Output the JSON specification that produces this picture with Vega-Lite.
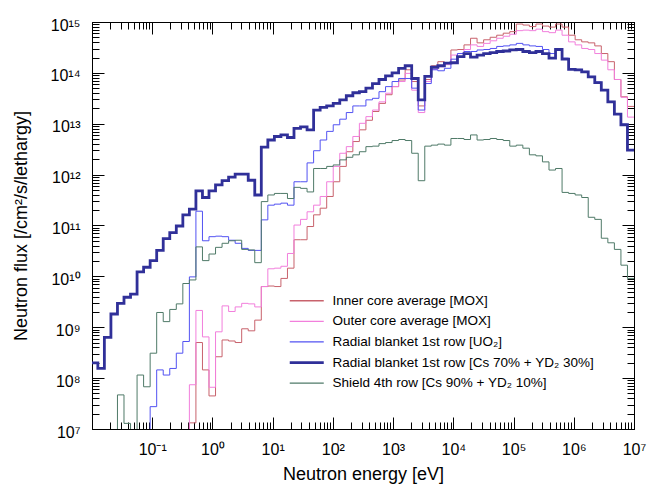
{
  "$schema": "https://vega.github.io/schema/vega-lite/v6.json",
  "width": 542,
  "height": 407,
  "autosize": "none",
  "padding": {"left": 92, "top": 22, "right": 14, "bottom": 60},
  "background": "white",
  "config": {
    "view": {"stroke": "black", "strokeWidth": 1},
    "font": "Liberation Sans",
    "axis": {"grid": false, "domainColor": "black", "tickColor": "black", "labelColor": "black", "titleColor": "black", "labelFont": "Liberation Sans", "titleFont": "Liberation Sans", "titleFontWeight": "normal", "labelOverlap": false, "labelFlush": false}
  },
  "data": {"values": [
    {"e":0.009736,"a":1e5,"b":1e5,"c":1e5,"d":2.00e8,"g":1e5},
    {"e":0.012502,"a":1e5,"b":1e5,"c":1e5,"d":1.55e8,"g":1e5},
    {"e":0.016052,"a":1e5,"b":1e5,"c":1e5,"d":6.31e8,"g":1e5},
    {"e":0.020612,"a":1e5,"b":1e5,"c":1e5,"d":1.82e9,"g":1e5},
    {"e":0.026466,"a":1e5,"b":1e5,"c":1e5,"d":2.95e9,"g":4.68e7},
    {"e":0.033983,"a":1e5,"b":1e5,"c":1e5,"d":3.89e9,"g":1.29e7},
    {"e":0.043634,"a":1e5,"b":1e5,"c":1e5,"d":4.47e9,"g":1e5},
    {"e":0.056027,"a":1e5,"b":1e5,"c":1e5,"d":1.23e10,"g":1.15e8},
    {"e":0.071941,"a":1e5,"b":1e5,"c":1e5,"d":1.51e10,"g":6.76e7},
    {"e":0.092374,"a":1e5,"b":1e5,"c":2.75e7,"d":2.04e10,"g":3.09e8},
    {"e":0.11861,"a":1e5,"b":1e5,"c":1.45e8,"d":3.24e10,"g":1.95e9},
    {"e":0.15230,"a":1e5,"b":1e5,"c":1.15e8,"d":5.50e10,"g":1.29e9},
    {"e":0.19556,"a":1e5,"b":1e5,"c":1.55e8,"d":7.24e10,"g":2.24e9},
    {"e":0.25110,"a":1e5,"b":1e5,"c":3.09e8,"d":9.77e10,"g":2.88e9},
    {"e":0.32242,"a":1e5,"b":1e5,"c":5.25e8,"d":1.62e11,"g":7.24e9},
    {"e":0.41400,"a":1.32e7,"b":7.41e7,"c":9.77e9,"d":2.09e11,"g":8.51e9},
    {"e":0.53158,"a":5.01e8,"b":2.14e9,"c":1.91e11,"d":4.79e11,"g":3.80e10},
    {"e":0.68257,"a":1.45e8,"b":6.46e8,"c":5.01e10,"d":3.55e11,"g":2.04e10},
    {"e":0.87643,"a":4.47e7,"b":6.61e7,"c":6.03e10,"d":4.79e11,"g":2.75e10},
    {"e":1.1254,"a":2.63e8,"b":8.13e8,"c":6.17e10,"d":6.31e11,"g":3.72e10},
    {"e":1.4450,"a":5.62e8,"b":2.63e9,"c":6.03e10,"d":7.59e11,"g":4.47e10},
    {"e":1.8554,"a":5.37e8,"b":2.04e9,"c":5.13e10,"d":8.91e11,"g":5.01e10},
    {"e":2.3824,"a":5.01e8,"b":2.51e9,"c":4.47e10,"d":1.02e12,"g":5.13e10},
    {"e":3.0590,"a":9.33e8,"b":2.95e9,"c":3.55e10,"d":1.02e12,"g":3.39e10},
    {"e":3.9279,"a":8.51e8,"b":2.88e9,"c":3.24e10,"d":7.76e11,"g":3.31e10},
    {"e":5.0436,"a":1.38e9,"b":2.51e9,"c":3.24e10,"d":3.98e11,"g":1.86e10},
    {"e":6.4761,"a":6.31e9,"b":6.31e9,"c":1.29e11,"d":3.47e12,"g":2.95e11},
    {"e":8.3156,"a":6.46e9,"b":1.41e10,"c":2.51e11,"d":4.79e12,"g":3.98e11},
    {"e":10.677,"a":6.31e9,"b":1.45e10,"c":2.63e11,"d":5.62e12,"g":4.27e11},
    {"e":13.710,"a":9.12e9,"b":1.58e10,"c":2.75e11,"d":6.03e12,"g":4.27e11},
    {"e":17.603,"a":1.45e10,"b":2.82e10,"c":2.51e11,"d":5.37e12,"g":3.39e11},
    {"e":22.603,"a":5.25e10,"b":1.02e11,"c":7.24e11,"d":8.13e12,"g":5.62e11},
    {"e":29.023,"a":5.25e10,"b":1.32e11,"c":7.24e11,"d":8.71e12,"g":5.37e11},
    {"e":37.266,"a":9.55e10,"b":1.86e11,"c":1.70e12,"d":7.59e12,"g":4.57e11},
    {"e":47.851,"a":1.62e11,"b":2.51e11,"c":2.95e12,"d":1.86e13,"g":1.32e12},
    {"e":61.442,"a":2.19e11,"b":3.72e11,"c":4.79e12,"d":2.09e13,"g":1.32e12},
    {"e":78.893,"a":3.72e11,"b":7.24e11,"c":7.08e12,"d":2.24e13,"g":1.45e12},
    {"e":101.30,"a":7.24e11,"b":1.45e12,"c":9.55e12,"d":2.51e13,"g":1.55e12},
    {"e":130.07,"a":1.45e12,"b":2.63e12,"c":1.23e13,"d":2.95e13,"g":1.95e12},
    {"e":167.02,"a":2.82e12,"b":3.55e12,"c":1.66e13,"d":3.55e13,"g":2.19e12},
    {"e":214.45,"a":4.47e12,"b":5.62e12,"c":2.24e13,"d":4.07e13,"g":2.45e12},
    {"e":275.36,"a":7.59e12,"b":1.02e13,"c":2.24e13,"d":4.27e13,"g":2.82e12},
    {"e":353.57,"a":1.17e13,"b":1.38e13,"c":2.95e13,"d":5.01e13,"g":3.55e12},
    {"e":454.00,"a":1.74e13,"b":1.86e13,"c":3.16e13,"d":6.17e13,"g":3.63e12},
    {"e":582.95,"a":2.51e13,"b":2.69e13,"c":4.27e13,"d":7.41e13,"g":4.07e12},
    {"e":748.52,"a":3.72e13,"b":3.98e13,"c":5.37e13,"d":8.71e13,"g":4.27e12},
    {"e":961.13,"a":5.37e13,"b":5.37e13,"c":6.76e13,"d":1.00e14,"g":4.68e12},
    {"e":1234.1,"a":7.24e13,"b":6.76e13,"c":7.76e13,"d":1.23e14,"g":4.90e12},
    {"e":1584.6,"a":1.15e14,"b":9.77e13,"c":7.76e13,"d":1.38e14,"g":4.68e12},
    {"e":2034.7,"a":6.76e13,"b":4.57e13,"c":5.01e13,"d":7.76e13,"g":2.63e12},
    {"e":2612.6,"a":2.24e13,"b":1.66e13,"c":1.86e13,"d":2.95e13,"g":7.59e11},
    {"e":3354.6,"a":7.41e13,"b":6.76e13,"c":6.17e13,"d":8.51e13,"g":3.63e12},
    {"e":4307.4,"a":1.38e14,"b":1.17e14,"c":1.15e14,"d":1.29e14,"g":3.80e12},
    {"e":5530.8,"a":1.66e14,"b":1.32e14,"c":1.10e14,"d":1.38e14,"g":3.98e12},
    {"e":7101.7,"a":1.55e14,"b":1.45e14,"c":1.23e14,"d":1.55e14,"g":3.80e12},
    {"e":9118.8,"a":2.82e14,"b":2.24e14,"c":1.86e14,"d":1.58e14,"g":5.13e12},
    {"e":11709,"a":2.88e14,"b":2.40e14,"c":2.40e14,"d":2.09e14,"g":5.13e12},
    {"e":15034,"a":3.55e14,"b":2.88e14,"c":2.63e14,"d":2.40e14,"g":4.90e12},
    {"e":19304,"a":4.79e14,"b":3.55e14,"c":2.63e14,"d":2.04e14,"g":6.03e12},
    {"e":24787,"a":3.89e14,"b":3.31e14,"c":2.82e14,"d":2.24e14,"g":4.79e12},
    {"e":31828,"a":4.47e14,"b":3.80e14,"c":2.88e14,"d":2.40e14,"g":4.90e12},
    {"e":40868,"a":5.01e14,"b":4.27e14,"c":3.02e14,"d":2.51e14,"g":5.13e12},
    {"e":52475,"a":5.50e14,"b":4.79e14,"c":3.31e14,"d":2.63e14,"g":4.90e12},
    {"e":67379,"a":6.03e14,"b":5.25e14,"c":3.39e14,"d":2.69e14,"g":4.68e12},
    {"e":86517,"a":6.46e14,"b":5.75e14,"c":3.55e14,"d":2.82e14,"g":3.63e12},
    {"e":111090,"a":9.12e14,"b":6.76e14,"c":3.80e14,"d":2.88e14,"g":3.80e12},
    {"e":142640,"a":8.71e14,"b":6.92e14,"c":3.55e14,"d":2.63e14,"g":3.31e12},
    {"e":183160,"a":8.13e14,"b":6.76e14,"c":3.39e14,"d":2.51e14,"g":2.45e12},
    {"e":235180,"a":9.12e14,"b":7.24e14,"c":3.31e14,"d":2.63e14,"g":2.34e12},
    {"e":301970,"a":8.32e14,"b":6.46e14,"c":2.88e14,"d":2.40e14,"g":1.78e12},
    {"e":387740,"a":7.94e14,"b":6.17e14,"c":2.40e14,"d":1.95e14,"g":1.23e12},
    {"e":497870,"a":9.12e14,"b":6.92e14,"c":2.88e14,"d":2.88e14,"g":1.32e12},
    {"e":639280,"a":7.94e14,"b":5.50e14,"c":1.95e14,"d":1.86e14,"g":4.47e11},
    {"e":820850,"a":5.50e14,"b":4.07e14,"c":1.20e14,"d":1.17e14,"g":4.27e11},
    {"e":1054000,"a":4.47e14,"b":3.55e14,"c":1.17e14,"d":1.15e14,"g":3.98e11},
    {"e":1353400,"a":4.07e14,"b":3.02e14,"c":1.07e14,"d":1.05e14,"g":3.55e11},
    {"e":1737700,"a":3.89e14,"b":2.88e14,"c":8.51e13,"d":8.32e13,"g":1.45e11},
    {"e":2231300,"a":3.39e14,"b":2.40e14,"c":6.61e13,"d":6.46e13,"g":1.32e11},
    {"e":2865000,"a":2.40e14,"b":1.78e14,"c":4.68e13,"d":4.57e13,"g":5.62e10},
    {"e":3678800,"a":1.66e14,"b":1.15e14,"c":2.75e13,"d":2.69e13,"g":4.57e10},
    {"e":4723700,"a":7.41e13,"b":7.41e13,"c":1.58e13,"d":1.55e13,"g":3.39e10},
    {"e":6065300,"a":3.39e13,"b":3.31e13,"c":9.77e12,"d":9.55e12,"g":1.66e10},
    {"e":7788000,"a":2.19e13,"b":1.35e13,"c":3.09e12,"d":3.02e12,"g":9.12e9},
    {"e":10000000,"a":2.19e13,"b":1.35e13,"c":3.09e12,"d":3.02e12,"g":9.12e9}
  ]},
  "transform": [{"fold": ["a", "b", "c", "d", "g"], "as": ["k", "f"]}],
  "layer": [
    {
      "mark": {"type": "line", "interpolate": "step-after", "clip": true},
      "encoding": {
        "x": {"field": "e", "type": "quantitative",
          "scale": {"type": "log", "domain": [0.01, 10000000], "nice": false},
          "axis": {
            "orient": "bottom",
            "title": "Neutron energy [eV]", "titleFontSize": 18, "titlePadding": 3,
            "values": [0.02,0.03,0.04,0.05,0.06,0.07,0.08,0.09,0.1,0.2,0.3,0.4,0.5,0.6,0.7,0.8,0.9,1,2,3,4,5,6,7,8,9,10,20,30,40,50,60,70,80,90,100,200,300,400,500,600,700,800,900,1000,2000,3000,4000,5000,6000,7000,8000,9000,10000,20000,30000,40000,50000,60000,70000,80000,90000,100000,200000,300000,400000,500000,600000,700000,800000,900000,1000000,2000000,3000000,4000000,5000000,6000000,7000000,8000000,9000000,10000000],
            "labelExpr": "abs(log(datum.value)/LN10-round(log(datum.value)/LN10))<0.001 ? '10'+['⁻¹','⁰','¹','²','³','⁴','⁵','⁶','⁷'][round(log(datum.value)/LN10)+1] : ''",
            "labelFontSize": 16, "labelPadding": 24,
            "tickSize": {"condition": {"test": "abs(log(datum.value)/LN10-round(log(datum.value)/LN10))<0.001", "value": -12}, "value": -7}
          }},
        "y": {"field": "f", "type": "quantitative",
          "scale": {"type": "log", "domain": [10000000, 1e15], "nice": false},
          "axis": {
            "orient": "left",
            "title": "Neutron flux [/cm²/s/lethargy]", "titleFontSize": 18, "titlePadding": 20,
            "values": [1e7,2e7,3e7,4e7,5e7,6e7,7e7,8e7,9e7,1e8,2e8,3e8,4e8,5e8,6e8,7e8,8e8,9e8,1e9,2e9,3e9,4e9,5e9,6e9,7e9,8e9,9e9,1e10,2e10,3e10,4e10,5e10,6e10,7e10,8e10,9e10,1e11,2e11,3e11,4e11,5e11,6e11,7e11,8e11,9e11,1e12,2e12,3e12,4e12,5e12,6e12,7e12,8e12,9e12,1e13,2e13,3e13,4e13,5e13,6e13,7e13,8e13,9e13,1e14,2e14,3e14,4e14,5e14,6e14,7e14,8e14,9e14,1e15],
            "labelExpr": "abs(log(datum.value)/LN10-round(log(datum.value)/LN10))<0.001 ? '10'+['⁷','⁸','⁹','¹⁰','¹¹','¹²','¹³','¹⁴','¹⁵'][round(log(datum.value)/LN10)-7] : ''",
            "labelFontSize": 16, "labelPadding": 24, "labelOffset": 3,
            "tickSize": {"condition": {"test": "abs(log(datum.value)/LN10-round(log(datum.value)/LN10))<0.001", "value": -12}, "value": -7}
          }},
        "stroke": {"field": "k", "type": "nominal",
          "scale": {"domain": ["a", "b", "c", "d", "g"], "range": ["#c8626c", "#f27fdc", "#5252f2", "#303099", "#4f7a68"]},
          "legend": {"title": null, "orient": "none", "legendX": 208, "legendY": 272, "padding": 0,
            "symbolType": "M-2.5,0H2.5", "symbolSize": 185, "labelOffset": 19, "rowPadding": 5.6,
            "labelFontSize": 13.5, "labelFont": "Liberation Sans", "labelColor": "black", "labelLimit": 400,
            "labelExpr": "datum.label=='a' ? 'Inner core average [MOX]' : datum.label=='b' ? 'Outer core average [MOX]' : datum.label=='c' ? 'Radial blanket 1st row [UO₂]' : datum.label=='d' ? 'Radial blanket 1st row [Cs 70% + YD₂ 30%]' : 'Shield 4th row [Cs 90% + YD₂ 10%]'",
            "encode": {"symbols": {"update": {"strokeWidth": {"signal": "datum.value === 'd' ? 2.8 : 1.3"}}}}}},
        "strokeWidth": {"condition": {"test": "datum.k === 'd'", "value": 2.8}, "value": 1}
      }
    },
    {
      "mark": {"type": "line", "opacity": 0},
      "encoding": {
        "x": {"field": "e", "type": "quantitative",
          "scale": {"type": "log", "domain": [0.01, 10000000], "nice": false},
          "axis": {
            "orient": "top", "title": null, "labels": false,
            "values": [0.02,0.03,0.04,0.05,0.06,0.07,0.08,0.09,0.1,0.2,0.3,0.4,0.5,0.6,0.7,0.8,0.9,1,2,3,4,5,6,7,8,9,10,20,30,40,50,60,70,80,90,100,200,300,400,500,600,700,800,900,1000,2000,3000,4000,5000,6000,7000,8000,9000,10000,20000,30000,40000,50000,60000,70000,80000,90000,100000,200000,300000,400000,500000,600000,700000,800000,900000,1000000,2000000,3000000,4000000,5000000,6000000,7000000,8000000,9000000,10000000],
            "tickSize": {"condition": {"test": "abs(log(datum.value)/LN10-round(log(datum.value)/LN10))<0.001", "value": -12}, "value": -7}
          }},
        "y": {"field": "f", "type": "quantitative",
          "scale": {"type": "log", "domain": [10000000, 1e15], "nice": false},
          "axis": {
            "orient": "right", "title": null, "labels": false,
            "values": [1e7,2e7,3e7,4e7,5e7,6e7,7e7,8e7,9e7,1e8,2e8,3e8,4e8,5e8,6e8,7e8,8e8,9e8,1e9,2e9,3e9,4e9,5e9,6e9,7e9,8e9,9e9,1e10,2e10,3e10,4e10,5e10,6e10,7e10,8e10,9e10,1e11,2e11,3e11,4e11,5e11,6e11,7e11,8e11,9e11,1e12,2e12,3e12,4e12,5e12,6e12,7e12,8e12,9e12,1e13,2e13,3e13,4e13,5e13,6e13,7e13,8e13,9e13,1e14,2e14,3e14,4e14,5e14,6e14,7e14,8e14,9e14,1e15],
            "tickSize": {"condition": {"test": "abs(log(datum.value)/LN10-round(log(datum.value)/LN10))<0.001", "value": -12}, "value": -7}
          }}
      }
    }
  ],
  "resolve": {"axis": {"x": "independent", "y": "independent"}}
}
